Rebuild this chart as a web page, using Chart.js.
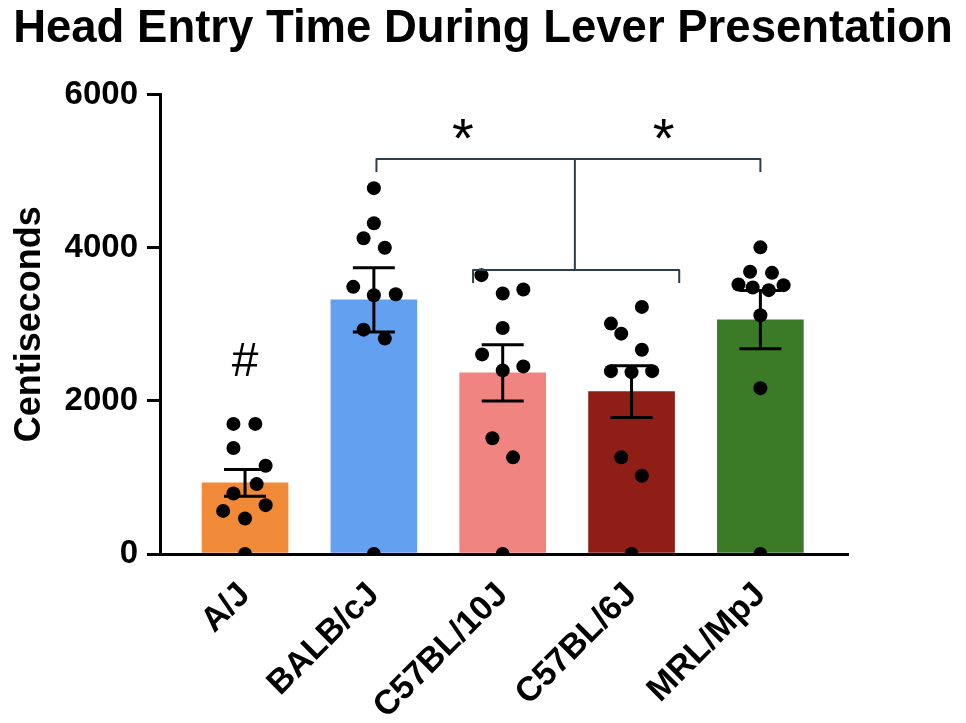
<!DOCTYPE html>
<html lang="en">
<head>
<meta charset="UTF-8">
<title>Head Entry Time During Lever Presentation</title>
<style>
body { margin:0; padding:0; background:#fff; }
#wrap { width:966px; height:723px; position:relative; }
</style>
</head>
<body>
<div id="wrap"><canvas id="chart"></canvas></div>

<script src="https://cdn.jsdelivr.net/npm/chart.js"></script>
<script>
// strains on the x axis
const strains = ['A/J', 'BALB/cJ', 'C57BL/10J', 'C57BL/6J', 'MRL/MpJ'];
const barColors = ['#F08A38', '#64A0F0', '#EF8481', '#8F1F16', '#3B7B28'];

// group means and SEM (centiseconds)
const means = [930, 3320, 2365, 2120, 3060];
const sems = [175, 420, 367, 338, 380];

// individual animals per strain, with their horizontal spread
const animals = [
  [1699, 1699, 1385, 1153, 913, 790, 638, 563, 463, 0],
  [4778, 4319, 4123, 4000, 3489, 3380, 3393, 2930, 2813, 0],
  [3642, 3402, 3455, 2952, 2607, 2398, 2450, 1511, 1262, 0],
  [3227, 3009, 2878, 2668, 2388, 2375, 2388, 1262, 1022, 0],
  [4005, 3686, 3672, 3520, 3481, 3446, 3511, 3118, 2166, 0]
];
const spread = [
  [-0.09, 0.08, -0.09, 0.16, 0.09, -0.09, 0.16, -0.17, 0, 0],
  [0, 0, -0.08, 0.085, -0.16, 0, 0.17, -0.08, 0.085, 0],
  [-0.165, 0, 0.16, 0, -0.16, 0, 0.16, -0.08, 0.08, 0],
  [0.08, -0.16, -0.08, 0.08, -0.16, 0, 0.16, -0.08, 0.08, 0],
  [0, -0.08, 0.09, -0.17, -0.06, 0.065, 0.18, 0, 0, 0]
];

// y axis ticks
const yTicks = [0, 2000, 4000, 6000];

// significance brackets (x in strain index units, y in centiseconds)
const upperBracketX = [1.02, 4.0];
const upperBracketY = [5160, 4990];
const stemX = 2.56;
const lowerBracketX = [1.77, 3.37];
const lowerBracketY = [3710, 3540];
const starX = [1.69, 3.25];
const starY = 5520;
const hashY = 2500;

const barData = means.map((m, i) => ({ x: i, y: m }));
const dotData = [];
animals.forEach((grp, i) => grp.forEach((v, j) => dotData.push({ x: i + spread[i][j], y: v })));

const FONT = "'Liberation Sans', Arial, Helvetica, sans-serif";

const errorBars = {
  id: 'errorBars',
  afterDatasetDraw(chart, args) {
    if (args.index !== 0) return;
    const { ctx, scales: { x, y } } = chart;
    ctx.save();
    ctx.strokeStyle = '#000';
    ctx.lineWidth = 3;
    means.forEach((m, i) => {
      const px = x.getPixelForValue(i);
      const top = y.getPixelForValue(m + sems[i]);
      const bot = y.getPixelForValue(m - sems[i]);
      ctx.beginPath();
      ctx.moveTo(px, top); ctx.lineTo(px, bot);
      ctx.moveTo(px - 21, top); ctx.lineTo(px + 21, top);
      ctx.moveTo(px - 21, bot); ctx.lineTo(px + 21, bot);
      ctx.stroke();
    });
    ctx.restore();
  }
};

const marks = {
  id: 'marks',
  afterDraw(chart) {
    const { ctx, scales: { x, y } } = chart;
    ctx.save();
    ctx.strokeStyle = '#2E3D4C';
    ctx.lineWidth = 2;
    ctx.lineJoin = 'round';
    // upper bracket BALB/cJ .. MRL/MpJ
    ctx.beginPath();
    ctx.moveTo(x.getPixelForValue(upperBracketX[0]), y.getPixelForValue(upperBracketY[1]));
    ctx.lineTo(x.getPixelForValue(upperBracketX[0]), y.getPixelForValue(upperBracketY[0]));
    ctx.lineTo(x.getPixelForValue(upperBracketX[1]), y.getPixelForValue(upperBracketY[0]));
    ctx.lineTo(x.getPixelForValue(upperBracketX[1]), y.getPixelForValue(upperBracketY[1]));
    // stem down to the C57 bracket
    ctx.moveTo(x.getPixelForValue(stemX), y.getPixelForValue(upperBracketY[0]));
    ctx.lineTo(x.getPixelForValue(stemX), y.getPixelForValue(lowerBracketY[0]));
    // lower bracket C57BL/10J .. C57BL/6J
    ctx.moveTo(x.getPixelForValue(lowerBracketX[0]), y.getPixelForValue(lowerBracketY[1]));
    ctx.lineTo(x.getPixelForValue(lowerBracketX[0]), y.getPixelForValue(lowerBracketY[0]));
    ctx.lineTo(x.getPixelForValue(lowerBracketX[1]), y.getPixelForValue(lowerBracketY[0]));
    ctx.lineTo(x.getPixelForValue(lowerBracketX[1]), y.getPixelForValue(lowerBracketY[1]));
    ctx.stroke();

    ctx.fillStyle = '#000';
    ctx.textAlign = 'center';
    ctx.textBaseline = 'middle';
    ctx.font = '56px ' + FONT;
    starX.forEach(sx => ctx.fillText('*', x.getPixelForValue(sx), y.getPixelForValue(starY) + 10));
    ctx.font = '48px ' + FONT;
    ctx.fillText('#', x.getPixelForValue(0), y.getPixelForValue(hashY));
    ctx.restore();
  }
};

new Chart(document.getElementById('chart'), {
  type: 'bar',
  data: {
    datasets: [
      {
        type: 'bar',
        data: barData,
        backgroundColor: barColors,
        barThickness: 86,
        order: 2
      },
      {
        type: 'scatter',
        data: dotData,
        pointRadius: 7,
        pointBackgroundColor: '#000',
        pointBorderWidth: 0,
        order: 1
      }
    ]
  },
  options: {
    responsive: true,
    maintainAspectRatio: false,
    animation: false,
    layout: { padding: 0 },
    plugins: {
      legend: { display: false },
      tooltip: { enabled: false },
      title: {
        display: true,
        text: 'Head Entry Time During Lever Presentation',
        color: '#000',
        font: { family: FONT, size: 45.5, weight: 'bold' },
        padding: { top: 2, bottom: 38 }
      }
    },
    scales: {
      x: {
        type: 'linear',
        offset: false,
        min: -0.66,
        max: 4.68,
        afterBuildTicks: s => { s.ticks = strains.map((_, i) => ({ value: i })); },
        afterFit: s => { s.height = 169; },
        grid: { display: false },
        border: { display: true, color: '#000', width: 3 },
        ticks: {
          autoSkip: false,
          minRotation: 45,
          maxRotation: 45,
          padding: 13,
          color: '#000',
          font: { family: FONT, size: 34, weight: 'bold' },
          callback: v => strains[v]
        }
      },
      y: {
        min: 0,
        max: 6000,
        afterBuildTicks: s => { s.ticks = yTicks.map(v => ({ value: v })); },
        afterFit: s => { s.width = 160; },
        grid: { display: true, drawOnChartArea: false, drawTicks: true, tickLength: 13, color: '#000', lineWidth: 3 },
        border: { display: true, color: '#000', width: 3 },
        ticks: {
          padding: 9,
          color: '#000',
          font: { family: FONT, size: 33, weight: 'bold' },
          callback: v => String(v)
        },
        title: {
          display: true,
          text: 'Centiseconds',
          color: '#000',
          font: { family: FONT, size: 36, weight: 'bold' },
          padding: { top: 8, bottom: 0 }
        }
      },
      // empty right-hand margin beside the plot
      gutter: {
        type: 'linear',
        position: 'right',
        display: true,
        afterFit: s => { s.width = 118; },
        grid: { display: false },
        border: { display: false },
        ticks: { display: false }
      }
    }
  },
  plugins: [errorBars, marks]
});
</script>
</body>
</html>
